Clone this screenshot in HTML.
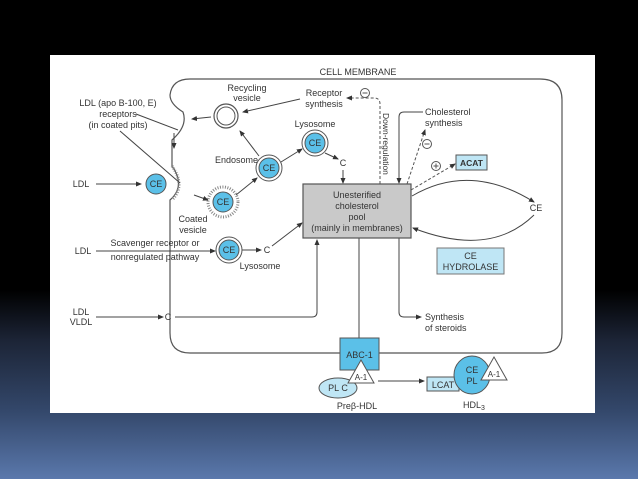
<!DOCTYPE html>
<html><head><meta charset="utf-8"><style>
html,body{margin:0;padding:0;}
body{width:638px;height:479px;overflow:hidden;background:linear-gradient(to bottom,#000 0px,#000 290px,#1c2436 340px,#33476a 410px,#5a78ac 479px);}
svg{position:absolute;left:0;top:0;}
text{font-family:"Liberation Sans",sans-serif;font-size:9px;fill:#333;}
</style></head><body>
<svg width="638" height="479" viewBox="0 0 638 479">
<defs>
<marker id="a" markerWidth="6" markerHeight="6" refX="5" refY="3" orient="auto" markerUnits="userSpaceOnUse"><path d="M0,0.5 L6,3 L0,5.5z" fill="#333"/></marker>
</defs>
<rect x="50" y="55" width="545" height="358" fill="#fff"/>
<g fill="none" stroke="#555" stroke-width="1.2">
<path d="M190,79 L540,79 Q562,79 562,100 L562,333 Q562,353 542,353 L190,353 Q170,353 170,333 L170,200 Q186,186 172,166 L172,140 Q188,126 183,112 Q170,104 170,95 Q172,79 190,79"/>
</g>
<!-- coated pit hatching -->
<path d="M172,166 Q186,186 172,200" fill="none" stroke="#888" stroke-width="3" stroke-dasharray="1 1.5"/>
<text x="358" y="75" text-anchor="middle">CELL MEMBRANE</text>
<text x="118" y="106" text-anchor="middle">LDL (apo B-100, E)</text>
<text x="118" y="117" text-anchor="middle">receptors</text>
<text x="118" y="128" text-anchor="middle">(in coated pits)</text>
<line x1="136" y1="114" x2="178" y2="130" stroke="#444"/>
<line x1="120" y1="131" x2="180" y2="183" stroke="#444"/>
<text x="247" y="91" text-anchor="middle">Recycling</text>
<text x="247" y="101" text-anchor="middle">vesicle</text>
<circle cx="226" cy="116" r="12" fill="#fff" stroke="#555" stroke-width="1.2"/>
<circle cx="226" cy="116" r="9" fill="#fff" stroke="#555" stroke-width="1"/>
<text x="324" y="96" text-anchor="middle">Receptor</text>
<text x="324" y="107" text-anchor="middle">synthesis</text>
<circle cx="365" cy="93" r="4.5" fill="#fff" stroke="#555"/><line x1="362.5" y1="93" x2="367.5" y2="93" stroke="#555"/>
<path d="M380,184 L380,104 Q380,98 374,98 L347,98" fill="none" stroke="#555" stroke-dasharray="3 2" marker-end="url(#a)"/>
<text transform="translate(383,113) rotate(90)" style="font-size:8.5px">Down-regulation</text>
<g stroke="#444" fill="none" marker-end="url(#a)">
<line x1="300" y1="99" x2="243" y2="112"/>
<line x1="211" y1="117" x2="192" y2="119"/>
<line x1="174" y1="133" x2="174" y2="148"/>
<line x1="96" y1="184" x2="141" y2="184"/>
<line x1="194" y1="195" x2="208" y2="200"/>
<line x1="236" y1="195" x2="257" y2="178"/>
<line x1="259" y1="156" x2="240" y2="131"/>
<line x1="281" y1="162" x2="302" y2="149"/>
<line x1="325" y1="153" x2="338" y2="159"/>
<line x1="343" y1="170" x2="343" y2="183"/>
<line x1="96" y1="251" x2="215" y2="251"/>
<line x1="241" y1="250" x2="261" y2="250"/>
<line x1="272" y1="246" x2="302" y2="223"/>
<line x1="96" y1="317" x2="163" y2="317"/>
<path d="M175,317 L312,317 Q317,317 317,312 L317,240"/>
<line x1="359" y1="238" x2="359" y2="343"/>
<path d="M399,238 L399,312 Q399,317 404,317 L421,317"/>
<path d="M423,112 L404,112 Q399,112 399,117 L399,183"/>
<line x1="378" y1="381" x2="424" y2="381"/>
<path d="M412,196 Q470,162 534,202"/>
<path d="M534,215 Q490,258 413,228"/>
</g>
<g stroke="#555" fill="none" stroke-dasharray="3 2" marker-end="url(#a)">
<line x1="407" y1="184" x2="425" y2="130"/>
<line x1="411" y1="190" x2="455" y2="164"/>
</g>
<circle cx="427" cy="144" r="4.5" fill="#fff" stroke="#555"/><line x1="424.5" y1="144" x2="429.5" y2="144" stroke="#555"/>
<circle cx="436" cy="166" r="4.5" fill="#fff" stroke="#555"/><line x1="433.5" y1="166" x2="438.5" y2="166" stroke="#555"/><line x1="436" y1="163.5" x2="436" y2="168.5" stroke="#555"/>
<text x="425" y="115">Cholesterol</text>
<text x="425" y="126">synthesis</text>
<rect x="456" y="155" width="31" height="15" fill="#bfe6f5" stroke="#555"/>
<text x="471.5" y="166" text-anchor="middle" style="font-weight:bold;font-size:8.5px">ACAT</text>
<text x="536" y="211" text-anchor="middle">CE</text>
<rect x="437" y="248" width="67" height="26" fill="#bfe6f5" stroke="#777"/>
<text x="470.5" y="259" text-anchor="middle">CE</text>
<text x="470.5" y="270" text-anchor="middle">HYDROLASE</text>
<!-- pool -->
<rect x="303" y="184" width="108" height="54" fill="#c9c9c9" stroke="#555" stroke-width="1.2"/>
<text x="357" y="198" text-anchor="middle">Unesterified</text>
<text x="357" y="209" text-anchor="middle">cholesterol</text>
<text x="357" y="220" text-anchor="middle">pool</text>
<text x="357" y="231" text-anchor="middle">(mainly in membranes)</text>
<!-- CE circles -->
<g stroke="#555">
<circle cx="315" cy="143" r="13" fill="#fff"/><circle cx="315" cy="143" r="10" fill="#5bc0e8"/>
<circle cx="269" cy="168" r="13" fill="#fff"/><circle cx="269" cy="168" r="10" fill="#5bc0e8"/>
<circle cx="156" cy="184" r="10" fill="#5bc0e8"/>
<circle cx="223" cy="202" r="15" fill="#fff" stroke="#888" stroke-width="3" stroke-dasharray="1 1.5"/>
<circle cx="223" cy="202" r="10" fill="#5bc0e8"/>
<circle cx="229" cy="250" r="13" fill="#fff"/><circle cx="229" cy="250" r="10" fill="#5bc0e8"/>
</g>
<text x="315" y="146" text-anchor="middle">CE</text>
<text x="269" y="171" text-anchor="middle">CE</text>
<text x="156" y="187" text-anchor="middle">CE</text>
<text x="223" y="205" text-anchor="middle">CE</text>
<text x="229" y="253" text-anchor="middle">CE</text>
<text x="315" y="127" text-anchor="middle">Lysosome</text>
<text x="343" y="166" text-anchor="middle">C</text>
<text x="258" y="163" text-anchor="end">Endosome</text>
<text x="81" y="187" text-anchor="middle">LDL</text>
<text x="193" y="222" text-anchor="middle">Coated</text>
<text x="193" y="233" text-anchor="middle">vesicle</text>
<text x="83" y="254" text-anchor="middle">LDL</text>
<text x="155" y="246" text-anchor="middle">Scavenger receptor or</text>
<text x="155" y="260" text-anchor="middle">nonregulated pathway</text>
<text x="267" y="253" text-anchor="middle">C</text>
<text x="260" y="269" text-anchor="middle">Lysosome</text>
<text x="81" y="315" text-anchor="middle">LDL</text>
<text x="81" y="325" text-anchor="middle">VLDL</text>
<text x="168" y="320" text-anchor="middle">C</text>
<text x="425" y="320">Synthesis</text>
<text x="425" y="331">of steroids</text>
<!-- bottom -->
<rect x="340" y="338" width="39" height="32" fill="#5bc0e8" stroke="#555"/>
<text x="359.5" y="358" text-anchor="middle">ABC-1</text>
<ellipse cx="338" cy="388" rx="19" ry="10" fill="#bfe6f5" stroke="#555"/>
<text x="338" y="391" text-anchor="middle">PL C</text>
<path d="M361,360 L374,383 L348,383z" fill="#fff" stroke="#555"/>
<text x="361" y="380" text-anchor="middle" style="font-size:8px">A-1</text>
<text x="357" y="409" text-anchor="middle">Preβ-HDL</text>
<rect x="427" y="377" width="32" height="14" fill="#bfe6f5" stroke="#555"/>
<text x="443" y="388" text-anchor="middle">LCAT</text>
<ellipse cx="472" cy="375" rx="18" ry="19" fill="#5bc0e8" stroke="#555"/>
<text x="472" y="373" text-anchor="middle">CE</text>
<text x="472" y="384" text-anchor="middle">PL</text>
<path d="M494,357 L507,380 L481,380z" fill="#fff" stroke="#555"/>
<text x="494" y="377" text-anchor="middle" style="font-size:8px">A-1</text>
<text x="474" y="408" text-anchor="middle">HDL<tspan style="font-size:7px" dy="2">3</tspan></text>
</svg>
</body></html>
